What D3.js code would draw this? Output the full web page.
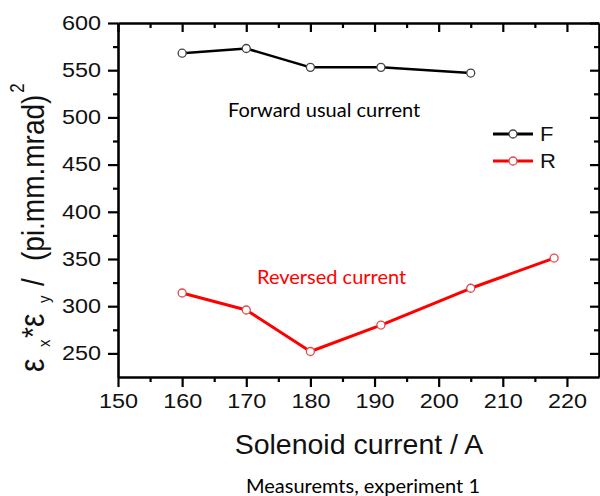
<!DOCTYPE html>
<html>
<head>
<meta charset="utf-8">
<script src="https://cdn.jsdelivr.net/npm/d3@7"></script>
<style>
  html, body { margin: 0; padding: 0; background: #fff; }
  svg { display: block; }
</style>
</head>
<body>
<svg id="chart" width="600" height="496"></svg>
<script>
// Emittance product vs solenoid current, two polarities
const currentF = [160, 170, 180, 191, 205];
const emitF    = [568, 573, 553, 553, 547];
const currentR = [160, 170, 180, 191, 205, 218];
const emitR    = [314, 296, 252, 280, 319, 351];

const xTicks = [150, 160, 170, 180, 190, 200, 210, 220];
const yTicks = [250, 300, 350, 400, 450, 500, 550, 600];
const xMinor = [155, 165, 175, 185, 195, 205, 215];
const yMinor = [275, 325, 375, 425, 475, 525, 575];

const seriesNames = ["F", "R"];
const seriesColors = ["#000000", "#ff0000"];
const markerStroke = ["#444444", "#e04a4a"];

const svg = d3.select("#chart");
const plotL = 118, plotR = 599, plotT = 23, plotB = 377;

const x = d3.scaleLinear().domain([150, 225]).range([plotL, plotR]);
const y = d3.scaleLinear().domain([225, 600]).range([plotB, plotT]);

const axisFont = "'Liberation Sans', Arial, sans-serif";
const noteFont = "Lato, 'Open Sans', sans-serif";

function styleAxis(g) {
  g.select(".domain").attr("stroke", "#000").attr("stroke-width", 2.6);
  g.selectAll(".tick line").attr("stroke", "#000").attr("stroke-width", 2.2);
}
function minorStyle(g) {
  g.select(".domain").remove();
  g.selectAll(".tick line").attr("stroke", "#000").attr("stroke-width", 2.2);
}

// bottom: outward ticks with labels
const gx = svg.append("g").attr("transform", `translate(0,${plotB})`)
  .call(d3.axisBottom(x).tickValues(xTicks).tickSizeInner(10).tickSizeOuter(0).tickPadding(7));
styleAxis(gx);
gx.selectAll(".tick text")
  .attr("font-family", axisFont).attr("font-size", 19.5).attr("fill", "#111")
  .attr("transform", "scale(1.2,1)");
svg.append("g").attr("transform", `translate(0,${plotB})`)
  .call(d3.axisBottom(x).tickValues(xMinor).tickSizeInner(5).tickSizeOuter(0).tickFormat(""))
  .call(minorStyle);

// left: outward ticks with labels
const gy = svg.append("g").attr("transform", `translate(${plotL},0)`)
  .call(d3.axisLeft(y).tickValues(yTicks).tickSizeInner(10).tickSizeOuter(0).tickPadding(7));
styleAxis(gy);
gy.selectAll(".tick text")
  .attr("font-family", axisFont).attr("font-size", 19.5).attr("fill", "#111")
  .attr("x", -17 / 1.2)
  .attr("transform", "scale(1.2,1)");
svg.append("g").attr("transform", `translate(${plotL},0)`)
  .call(d3.axisLeft(y).tickValues(yMinor).tickSizeInner(5).tickSizeOuter(0).tickFormat(""))
  .call(minorStyle);

// top: inward ticks, no labels
const gt = svg.append("g").attr("transform", `translate(0,${plotT})`)
  .call(d3.axisTop(x).tickValues(xTicks).tickSizeInner(-9).tickSizeOuter(0).tickFormat(""));
styleAxis(gt);
svg.append("g").attr("transform", `translate(0,${plotT})`)
  .call(d3.axisTop(x).tickValues(xMinor).tickSizeInner(-5).tickSizeOuter(0).tickFormat(""))
  .call(minorStyle);

// right: inward ticks, no labels
const gr = svg.append("g").attr("transform", `translate(${plotR},0)`)
  .call(d3.axisRight(y).tickValues(yTicks).tickSizeInner(-9).tickSizeOuter(0).tickFormat(""));
styleAxis(gr);
svg.append("g").attr("transform", `translate(${plotR},0)`)
  .call(d3.axisRight(y).tickValues(yMinor).tickSizeInner(-5).tickSizeOuter(0).tickFormat(""))
  .call(minorStyle);

// Series
const series = [
  { xs: currentF, ys: emitF, color: seriesColors[0], mk: markerStroke[0], w: 2.5 },
  { xs: currentR, ys: emitR, color: seriesColors[1], mk: markerStroke[1], w: 3 }
];
const line = d3.line().x(d => x(d[0])).y(d => y(d[1]));
series.forEach(s => {
  const pts = s.xs.map((v, i) => [v, s.ys[i]]);
  svg.append("path").datum(pts)
    .attr("d", line).attr("fill", "none")
    .attr("stroke", s.color).attr("stroke-width", s.w).attr("stroke-linejoin", "round");
  svg.append("g").selectAll("circle").data(pts).join("circle")
    .attr("cx", d => x(d[0])).attr("cy", d => y(d[1])).attr("r", 4)
    .attr("fill", "#fff").attr("stroke", s.mk).attr("stroke-width", 1.3);
});

// Legend
const legend = svg.append("g");
seriesNames.forEach((name, i) => {
  const ly = 134 + i * 27;
  legend.append("line").attr("x1", 493).attr("x2", 533).attr("y1", ly).attr("y2", ly)
    .attr("stroke", seriesColors[i]).attr("stroke-width", 3);
  legend.append("circle").attr("cx", 513).attr("cy", ly).attr("r", 4)
    .attr("fill", "#fff").attr("stroke", markerStroke[i]).attr("stroke-width", 1.3);
  legend.append("text").attr("x", 540).attr("y", ly + 7)
    .attr("font-family", axisFont).attr("font-size", 20).attr("fill", "#111")
    .attr("transform", `translate(540,0) scale(1.1,1) translate(-540,0)`)
    .text(name);
});

// Annotations
svg.append("text").attr("x", 228).attr("y", 117)
  .attr("font-family", noteFont).attr("font-size", 20).attr("fill", "#000")
  .text("Forward usual current");
svg.append("text").attr("x", 257).attr("y", 284)
  .attr("font-family", noteFont).attr("font-size", 20).attr("fill", "#ff0000")
  .text("Reversed current");

// Axis titles
svg.append("text").attr("x", 359).attr("y", 454).attr("text-anchor", "middle")
  .attr("font-family", axisFont).attr("font-size", 28.5).attr("fill", "#111")
  .text("Solenoid current / A");

// y title: ε_x *ε_y / (pi.mm.mrad)^2, laid out along the rotated baseline
const yl = svg.append("text")
  .attr("transform", "translate(44,372) scale(1.15,1) rotate(-90)")
  .attr("font-family", axisFont).attr("font-size", 28).attr("fill", "#111");
yl.append("tspan").attr("x", 0).attr("font-size", 30).text("ε");
yl.append("tspan").attr("x", 25).attr("dy", 5).attr("font-size", 15).text("x");
yl.append("tspan").attr("x", 34).attr("dy", -5).text("*");
yl.append("tspan").attr("x", 45).attr("font-size", 30).text("ε");
yl.append("tspan").attr("x", 69).attr("dy", 5).attr("font-size", 15).text("y");
yl.append("tspan").attr("x", 86).attr("dy", -5).text("/");
yl.append("tspan").attr("x", 111).text("(pi.mm.mrad)");
yl.append("tspan").attr("dy", -17).attr("dx", 2).attr("font-size", 17).text("2");

// Caption
svg.append("text").attr("x", 363).attr("y", 493).attr("text-anchor", "middle")
  .attr("font-family", noteFont).attr("font-size", 20).attr("fill", "#000")
  .text("Measuremts, experiment 1");
</script>
</body>
</html>
